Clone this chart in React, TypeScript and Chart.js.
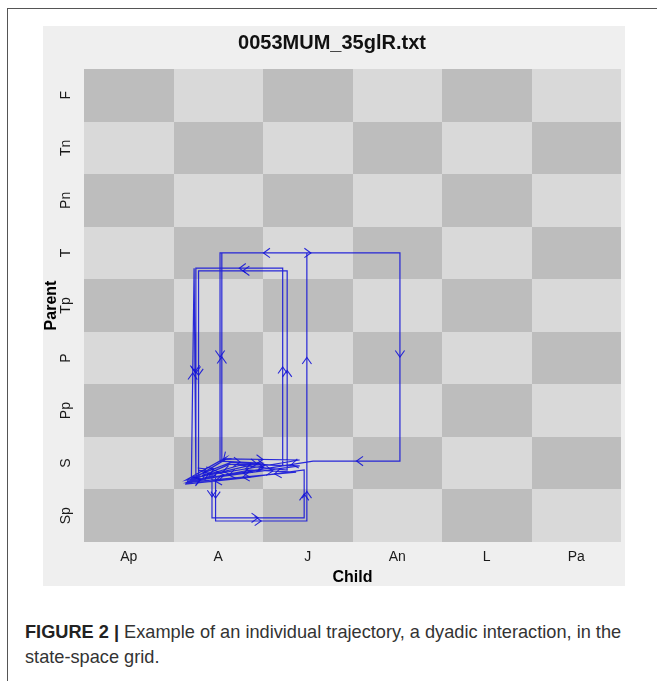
import React, { useEffect, useRef } from "react";
import { Chart, registerables } from "chart.js";

Chart.register(...registerables);

const chartTitle = "0053MUM_35glR.txt";
const xAxisTitle = "Child";
const yAxisTitle = "Parent";
const childStates = ["Ap", "A", "J", "An", "L", "Pa"];
const parentStates = ["Sp", "S", "Pp", "P", "Tp", "T", "Pn", "Tn", "F"];

// Trajectory positions on the grid (child state axis, parent state axis; cell i spans i..i+1)
const trajectoryChild = [
  1.14, 1.59, 2.41, 1.2, 1.23, 1.25, 1.65, 2.22, 2.22, 1.25,
  1.25, 1.74, 2.27, 2.27, 1.28, 1.28, 1.85, 2.37, 1.18, 1.43,
  1.43, 2.46, 2.46, 1.8, 1.13, 1.47, 1.47, 2.49, 2.49, 2.49,
  1.52, 1.52, 1.97, 1.14, 1.58, 1.54, 1.54, 3.53, 3.53, 2.56,
  2.08, 1.16, 1.63, 2.41, 1.15,
];
const trajectoryParent = [
  1.12, 1.58, 1.56, 1.22, 5.21, 1.26, 1.52, 1.45, 5.21, 5.21,
  1.22, 1.46, 1.37, 5.16, 5.16, 1.18, 1.37, 1.33, 1.14, 1.26,
  0.46, 0.46, 1.37, 1.22, 1.1, 1.27, 0.4, 0.4, 1.52, 5.5,
  5.5, 1.54, 1.5, 1.18, 1.6, 1.54, 5.5, 5.5, 1.54, 1.54,
  1.41, 1.14, 1.48, 1.45, 1.16,
];

const FONT = "'Liberation Sans', Arial, Helvetica, sans-serif";
const DARK = "#bdbdbd";
const LIGHT = "#d9d9d9";
const LINE = "rgba(20,20,215,0.9)";

const gridPlugin = {
  id: "ssgGrid",
  beforeDatasetsDraw(chart: any) {
    const { ctx, scales } = chart;
    const xs = scales.x;
    const ys = scales.y;
    ctx.save();
    childStates.forEach((_c, i) => {
      parentStates.forEach((_p, j) => {
        const x0 = Math.round(xs.getPixelForValue(i));
        const x1 = Math.round(xs.getPixelForValue(i + 1));
        const y0 = Math.round(ys.getPixelForValue(j + 1));
        const y1 = Math.round(ys.getPixelForValue(j));
        ctx.fillStyle = (i + j) % 2 === 0 ? DARK : LIGHT;
        ctx.fillRect(x0, y0, x1 - x0, y1 - y0);
      });
    });
    ctx.restore();
  },
};

const arrowPlugin = {
  id: "ssgArrows",
  afterDatasetsDraw(chart: any) {
    const { ctx } = chart;
    const pts = chart.getDatasetMeta(0).data;
    const L = 8;
    const th = 0.62;
    ctx.save();
    ctx.strokeStyle = LINE;
    ctx.lineWidth = 1.1;
    for (let i = 1; i < pts.length; i++) {
      const a = pts[i - 1];
      const b = pts[i];
      const mx = (a.x + b.x) / 2;
      const my = (a.y + b.y) / 2;
      const ang = Math.atan2(b.y - a.y, b.x - a.x);
      ctx.beginPath();
      ctx.moveTo(mx - L * Math.cos(ang - th), my - L * Math.sin(ang - th));
      ctx.lineTo(mx, my);
      ctx.lineTo(mx - L * Math.cos(ang + th), my - L * Math.sin(ang + th));
      ctx.stroke();
    }
    ctx.restore();
  },
};

const yLabelPlugin = {
  id: "ssgYLabels",
  afterDraw(chart: any) {
    const { ctx, chartArea, scales } = chart;
    const ys = scales.y;
    ctx.save();
    ctx.fillStyle = "#1a1a1a";
    ctx.font = `14px ${FONT}`;
    ctx.textAlign = "center";
    ctx.textBaseline = "middle";
    parentStates.forEach((lab, j) => {
      const py = ys.getPixelForValue(j + 0.5);
      ctx.save();
      ctx.translate(chartArea.left - 18, py);
      ctx.rotate(-Math.PI / 2);
      ctx.fillText(lab, 0, 0);
      ctx.restore();
    });
    ctx.restore();
  },
};

function SSGChart() {
  const ref = useRef<HTMLCanvasElement>(null);
  useEffect(() => {
    const canvas = ref.current;
    if (!canvas) return;
    const points = trajectoryChild.map((c, i) => ({ x: c, y: trajectoryParent[i] }));
    const chart = new Chart(canvas, {
      type: "line",
      data: {
        datasets: [
          {
            data: points,
            borderColor: LINE,
            borderWidth: 1.2,
            pointRadius: 0,
            pointHoverRadius: 0,
            tension: 0,
            fill: false,
          },
        ],
      },
      options: {
        responsive: false,
        animation: false,
        devicePixelRatio: 1,
        events: [],
        layout: { padding: { top: 0, right: 4, bottom: 0, left: 0 } },
        plugins: {
          legend: { display: false },
          tooltip: { enabled: false },
          title: {
            display: true,
            text: chartTitle,
            color: "#111",
            font: { family: FONT, size: 20, weight: "bold", lineHeight: 1.2 },
            padding: { top: 5, bottom: 14 },
          },
        },
        scales: {
          x: {
            type: "linear",
            min: 0,
            max: childStates.length,
            grid: { display: false, drawTicks: false },
            border: { display: false },
            afterBuildTicks: (s: any) => {
              s.ticks = childStates.map((_c, i) => ({ value: i + 0.5 }));
            },
            afterFit: (s: any) => {
              s.height = 44;
            },
            ticks: {
              autoSkip: false,
              maxRotation: 0,
              minRotation: 0,
              padding: 7,
              color: "#1a1a1a",
              font: { family: FONT, size: 14 },
              callback: (_v: any, i: number) => childStates[i],
            },
            title: {
              display: true,
              text: xAxisTitle,
              color: "#000",
              font: { family: FONT, size: 16, weight: "bold", lineHeight: 1 },
              padding: { top: 0, bottom: 0 },
            },
          },
          y: {
            type: "linear",
            min: 0,
            max: parentStates.length,
            grid: { display: false, drawTicks: false },
            border: { display: false },
            ticks: { display: false },
            afterFit: (s: any) => {
              s.width = 41;
            },
            title: {
              display: true,
              text: yAxisTitle,
              color: "#000",
              font: { family: FONT, size: 16, weight: "bold", lineHeight: 1 },
              padding: { top: 1, bottom: 0 },
            },
          },
        },
      } as any,
      plugins: [gridPlugin, arrowPlugin, yLabelPlugin],
    });
    return () => chart.destroy();
  }, []);
  return <canvas ref={ref} width={582} height={560} style={{ display: "block" }} />;
}

export default function App() {
  return (
    <div
      style={{
        position: "absolute",
        left: 0,
        top: 0,
        width: 657,
        height: 681,
        overflow: "hidden",
        background: "#fff",
        fontFamily: FONT,
      }}
    >
      <div
        style={{
          position: "absolute",
          left: 7,
          top: 8,
          width: 700,
          height: 700,
          borderTop: "1px solid #555",
          borderLeft: "1px solid #555",
        }}
      />
      <div
        style={{
          position: "absolute",
          left: 43,
          top: 26,
          width: 582,
          height: 560,
          background: "#efefef",
        }}
      >
        <SSGChart />
      </div>
      <div
        style={{
          position: "absolute",
          left: 25,
          top: 620,
          width: 630,
          fontSize: 18.2,
          lineHeight: "25px",
          color: "#333",
          whiteSpace: "nowrap",
        }}
      >
        <div>
          <b style={{ color: "#222" }}>FIGURE 2 |</b> Example of an individual trajectory, a dyadic
          interaction, in the
        </div>
        <div>state-space grid.</div>
      </div>
    </div>
  );
}
